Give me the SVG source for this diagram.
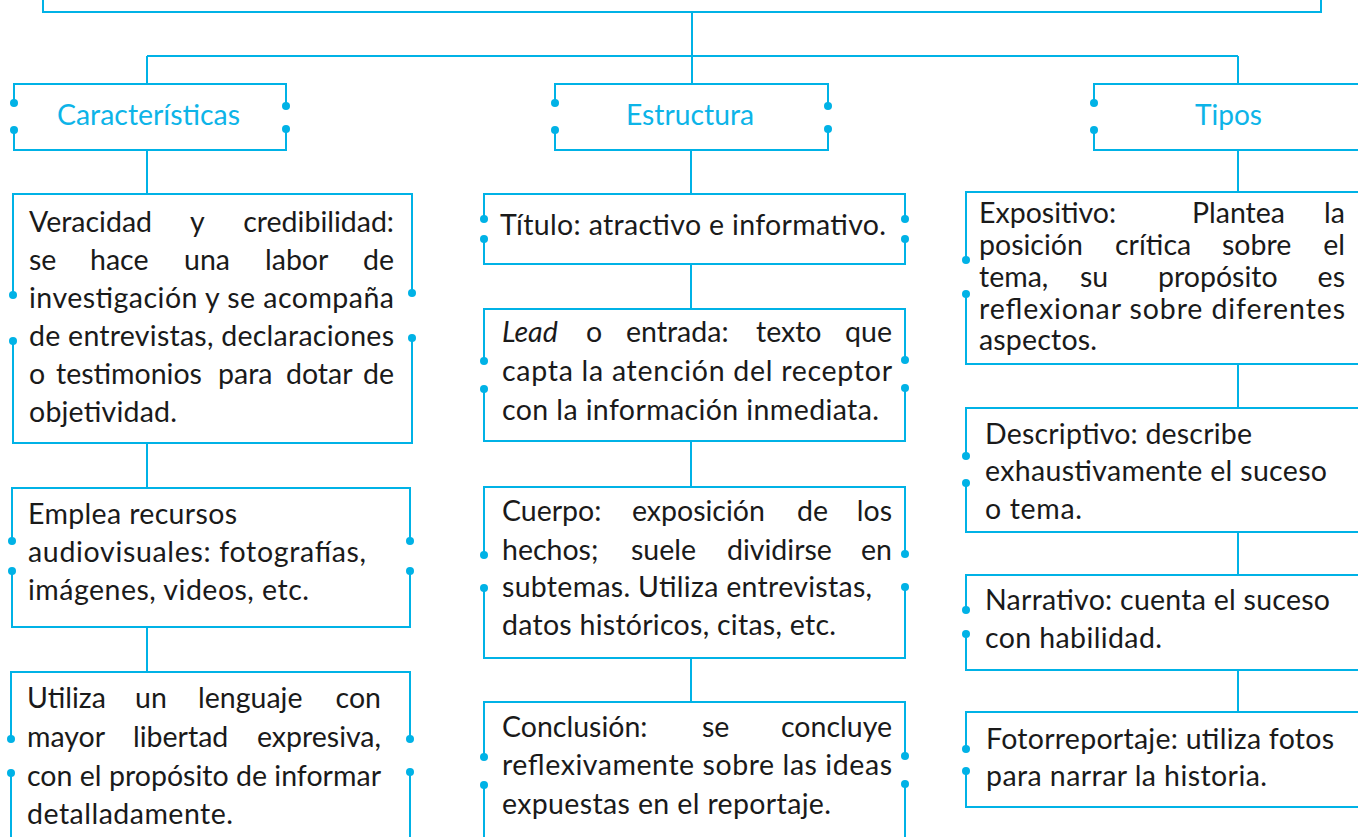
<svg xmlns="http://www.w3.org/2000/svg" width="1358" height="837" viewBox="0 0 1358 837">
<style>
.ln{fill:none;stroke:#00b2e6;stroke-width:2}
.dot{fill:#00b2e6}
.t{font-family:Lato,"Open Sans",sans-serif;font-size:28.5px;fill:#1a1a1a}
.e{text-anchor:end}
.h{font-family:Lato,"Open Sans",sans-serif;font-size:28px;font-weight:400;fill:#0db4e8}
</style>
<rect width="1358" height="837" fill="#ffffff"/>
<g id="connectors" class="ln">
<path d="M692 12V56M147 56H1238M147 56V84M692 56V84M1238 56V84"/>
<path d="M147 150V194M147 443V488M147 627V672"/>
<path d="M691 150V194M691 264V309M691 441V487M691 658V702"/>
<path d="M1238 150V192M1238 364V408M1238 532V575M1238 670V712"/>
</g>
<g id="top">
<path class="ln" d="M43 -5V12H1321V-5"/>
</g>
<g id="caracteristicas">
<path class="ln" d="M14 103V84H286V106M286 129V150H14V130"/>
<circle class="dot" cx="14" cy="103" r="4"/><circle class="dot" cx="14" cy="130" r="4"/>
<circle class="dot" cx="286" cy="106" r="4"/><circle class="dot" cx="286" cy="129" r="4"/>
<text class="h" x="57" y="124.5" textLength="183" lengthAdjust="spacingAndGlyphs">Características</text>
</g>
<g id="estructura">
<path class="ln" d="M555 103V84H828V106M828 129V150H555V130"/>
<circle class="dot" cx="555" cy="103" r="4"/><circle class="dot" cx="555" cy="130" r="4"/>
<circle class="dot" cx="828" cy="106" r="4"/><circle class="dot" cx="828" cy="129" r="4"/>
<text class="h" x="626" y="124.5" textLength="128" lengthAdjust="spacingAndGlyphs">Estructura</text>
</g>
<g id="tipos">
<path class="ln" d="M1094 103V84H1380M1380 150H1094V130"/>
<circle class="dot" cx="1094" cy="103" r="4"/><circle class="dot" cx="1094" cy="130" r="4"/>
<text class="h" x="1195" y="124.5" textLength="67" lengthAdjust="spacingAndGlyphs">Tipos</text>
</g>
<g id="veracidad">
<path class="ln" d="M13 295V194H412V293M412 338V443H13V341"/>
<circle class="dot" cx="13" cy="295" r="4"/><circle class="dot" cx="13" cy="341" r="4"/>
<circle class="dot" cx="412" cy="293" r="4"/><circle class="dot" cx="412" cy="338" r="4"/>
<text class="t" y="231.5"><tspan x="29">Veracidad</tspan><tspan x="190">y</tspan></text>
<text class="t e" x="394" y="231.5">credibilidad:</text>
<text class="t" y="269.5"><tspan x="29">se</tspan><tspan x="90">hace</tspan><tspan x="184">una</tspan><tspan x="265">labor</tspan></text>
<text class="t e" x="394" y="269.5">de</text>
<text class="t" x="29" y="307.5" textLength="365" lengthAdjust="spacing">investigación y se acompaña</text>
<text class="t" x="29" y="345.5" textLength="365" lengthAdjust="spacing">de entrevistas, declaraciones</text>
<text class="t" y="384"><tspan x="29">o</tspan><tspan x="56">testimonios</tspan><tspan x="218">para</tspan><tspan x="286">dotar</tspan></text>
<text class="t e" x="394" y="384">de</text>
<text class="t" x="29" y="422" textLength="148" lengthAdjust="spacing">objetividad.</text>
</g>
<g id="emplea">
<path class="ln" d="M12 541V488H410V541M410 571V627H12V571"/>
<circle class="dot" cx="12" cy="541" r="4"/><circle class="dot" cx="12" cy="571" r="4"/>
<circle class="dot" cx="410" cy="541" r="4"/><circle class="dot" cx="410" cy="571" r="4"/>
<text class="t" x="28" y="524" textLength="209" lengthAdjust="spacing">Emplea recursos</text>
<text class="t" x="28" y="562" textLength="338" lengthAdjust="spacing">audiovisuales: fotografías,</text>
<text class="t" x="28" y="600" textLength="281" lengthAdjust="spacing">imágenes, videos, etc.</text>
</g>
<g id="utiliza">
<path class="ln" d="M11 739V672H410V739M410 772V850M11 850V773"/>
<circle class="dot" cx="11" cy="739" r="4"/><circle class="dot" cx="11" cy="773" r="4"/>
<circle class="dot" cx="410" cy="739" r="4"/><circle class="dot" cx="410" cy="772" r="4"/>
<text class="t" y="708"><tspan x="27">Utiliza</tspan><tspan x="135">un</tspan><tspan x="198">lenguaje</tspan></text>
<text class="t e" x="381" y="708">con</text>
<text class="t" y="747"><tspan x="27">mayor</tspan><tspan x="133">libertad</tspan></text>
<text class="t e" x="381" y="747">expresiva,</text>
<text class="t" x="27" y="785.5" textLength="354" lengthAdjust="spacing">con el propósito de informar</text>
<text class="t" x="27" y="824" textLength="206" lengthAdjust="spacing">detalladamente.</text>
</g>
<g id="titulo">
<path class="ln" d="M484 219V194H905V219M905 239V264H484V239"/>
<circle class="dot" cx="484" cy="219" r="4"/><circle class="dot" cx="484" cy="239" r="4"/>
<circle class="dot" cx="905" cy="219" r="4"/><circle class="dot" cx="905" cy="239" r="4"/>
<text class="t" x="500" y="235" textLength="386" lengthAdjust="spacing">Título: atractivo e informativo.</text>
</g>
<g id="lead">
<path class="ln" d="M484 361V309H905V360M905 388V441H484V389"/>
<circle class="dot" cx="484" cy="361" r="4"/><circle class="dot" cx="484" cy="389" r="4"/>
<circle class="dot" cx="905" cy="360" r="4"/><circle class="dot" cx="905" cy="388" r="4"/>
<text class="t" y="342"><tspan x="502" font-style="italic">Lead</tspan><tspan x="586">o</tspan><tspan x="626">entrada:</tspan><tspan x="756">texto</tspan></text>
<text class="t e" x="892" y="342">que</text>
<text class="t" x="502" y="381" textLength="390" lengthAdjust="spacing">capta la atención del receptor</text>
<text class="t" x="502" y="420" textLength="377" lengthAdjust="spacing">con la información inmediata.</text>
</g>
<g id="cuerpo">
<path class="ln" d="M484 555V487H905V554M905 587V658H484V588"/>
<circle class="dot" cx="484" cy="555" r="4"/><circle class="dot" cx="484" cy="588" r="4"/>
<circle class="dot" cx="905" cy="554" r="4"/><circle class="dot" cx="905" cy="587" r="4"/>
<text class="t" y="521"><tspan x="502">Cuerpo:</tspan><tspan x="632">exposición</tspan><tspan x="797">de</tspan></text>
<text class="t e" x="892" y="521">los</text>
<text class="t" y="559.5"><tspan x="502">hechos;</tspan><tspan x="631">suele</tspan><tspan x="727">dividirse</tspan></text>
<text class="t e" x="892" y="559.5">en</text>
<text class="t" x="502" y="597" textLength="370" lengthAdjust="spacing">subtemas. Utiliza entrevistas,</text>
<text class="t" x="502" y="635" textLength="334" lengthAdjust="spacing">datos históricos, citas, etc.</text>
</g>
<g id="conclusion">
<path class="ln" d="M484 757V702H905V756M905 784V850M484 850V785"/>
<circle class="dot" cx="484" cy="757" r="4"/><circle class="dot" cx="484" cy="785" r="4"/>
<circle class="dot" cx="905" cy="756" r="4"/><circle class="dot" cx="905" cy="784" r="4"/>
<text class="t" y="737"><tspan x="502">Conclusión:</tspan><tspan x="702">se</tspan></text>
<text class="t e" x="892" y="737">concluye</text>
<text class="t" x="502" y="775" textLength="390" lengthAdjust="spacing">reflexivamente sobre las ideas</text>
<text class="t" x="502" y="813.5" textLength="329" lengthAdjust="spacing">expuestas en el reportaje.</text>
</g>
<g id="expositivo">
<path class="ln" d="M966 260V192H1380M1380 364H966V294"/>
<circle class="dot" cx="966" cy="260" r="4"/><circle class="dot" cx="966" cy="294" r="4"/>
<text class="t" y="223"><tspan x="979">Expositivo:</tspan><tspan x="1192">Plantea</tspan></text>
<text class="t e" x="1345" y="223">la</text>
<text class="t" y="255"><tspan x="979">posición</tspan><tspan x="1115">crítica</tspan><tspan x="1222">sobre</tspan></text>
<text class="t e" x="1345" y="255">el</text>
<text class="t" y="287"><tspan x="979">tema,</tspan><tspan x="1080">su</tspan><tspan x="1158">propósito</tspan></text>
<text class="t e" x="1345" y="287">es</text>
<text class="t" x="979" y="318.5" textLength="366" lengthAdjust="spacing">reflexionar sobre diferentes</text>
<text class="t" x="979" y="350" textLength="118" lengthAdjust="spacing">aspectos.</text>
</g>
<g id="descriptivo">
<path class="ln" d="M966 456V408H1380M1380 532H966V483"/>
<circle class="dot" cx="966" cy="456" r="4"/><circle class="dot" cx="966" cy="483" r="4"/>
<text class="t" x="985" y="443.5" textLength="267" lengthAdjust="spacing">Descriptivo: describe</text>
<text class="t" x="985" y="480.5" textLength="342" lengthAdjust="spacing">exhaustivamente el suceso</text>
<text class="t" x="985" y="518.5" textLength="97" lengthAdjust="spacing">o tema.</text>
</g>
<g id="narrativo">
<path class="ln" d="M966 610V575H1380M1380 670H966V634"/>
<circle class="dot" cx="966" cy="610" r="4"/><circle class="dot" cx="966" cy="634" r="4"/>
<text class="t" x="985" y="610" textLength="345" lengthAdjust="spacing">Narrativo: cuenta el suceso</text>
<text class="t" x="985" y="648" textLength="177" lengthAdjust="spacing">con habilidad.</text>
</g>
<g id="fotorreportaje">
<path class="ln" d="M966 749V712H1380M1380 807H966V771"/>
<circle class="dot" cx="966" cy="749" r="4"/><circle class="dot" cx="966" cy="771" r="4"/>
<text class="t" x="986" y="748.5" textLength="348" lengthAdjust="spacing">Fotorreportaje: utiliza fotos</text>
<text class="t" x="986" y="786" textLength="281" lengthAdjust="spacing">para narrar la historia.</text>
</g>
</svg>
